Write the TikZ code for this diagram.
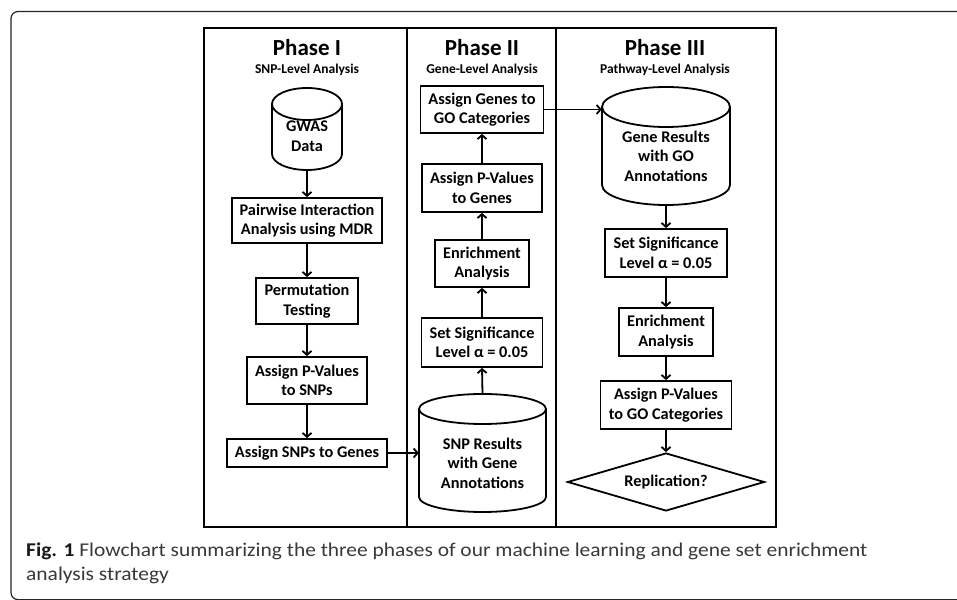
\documentclass[tikz,border=0pt]{standalone}
\usepackage{fontspec}
\setmainfont{Carlito}
\newfontfamily\capfont[FakeStretch=1.1]{Carlito}
\usetikzlibrary{arrows.meta,shapes.geometric,calc}
\newcommand\dbcyl[6]{% name, cx, Ytop, Ybot, rx, ry
  \node[inner sep=0pt, minimum width={2*#5}, minimum height={#3-#4}] (#1) at ({#2},{(#3+#4)/2}) {};
  \draw[lw] ({#2},{#3-#6}) ellipse[x radius=#5, y radius=#6];
  \draw[lw] ({#2-#5},{#3-#6}) -- ({#2-#5},{#4+#6}) arc[start angle=180, end angle=360, x radius=#5, y radius=#6] -- ({#2+#5},{#3-#6});
}
\begin{document}
\begin{tikzpicture}[x=1pt,y=1pt,
  lw/.style={draw=black, line width=1.8pt},
  bx/.style={lw, inner sep=0pt, align=center, font=\fontsize{16.3}{19.5}\selectfont\bfseries},
  txt/.style={inner sep=0pt, align=center, font=\fontsize{16.3}{19.5}\selectfont\bfseries},
  head/.style={inner sep=0pt, font=\fontsize{23}{26}\selectfont\bfseries},
  sub/.style={inner sep=0pt, font=\fontsize{13.5}{15}\selectfont\bfseries},
  arr/.style={line width=1.8pt, -{Straight Barb[length=4pt,width=9pt]}},
  captxt/.style={inner sep=0pt, align=left, anchor=base west, text=black!78, font=\capfont\fontsize{19.5}{24}\selectfont}]
\useasboundingbox (0,0) rectangle (957,599);
\clip (0,0) rectangle (957,599);
% outer frame
\draw[line width=1.2pt, draw=black!85, rounded corners=7pt] (962,587.5) -- (11,587.5) -- (11,-0.6) -- (962,-0.6);
% inner frame and dividers
\draw[lw] (204,571) rectangle (776,72);
\draw[lw] (407,571) -- (407,72);
\draw[lw] (556,571) -- (556,72);
% headings
\node[head] (h1) at (307,551) {Phase I};
\node[sub]  (s1) at (307,529) {SNP-Level Analysis};
\node[head] (h2) at (482,551) {Phase II};
\node[sub]  (s2) at (482,529) {Gene-Level Analysis};
\node[head] (h3) at (665,551) {Phase III};
\node[sub]  (s3) at (665,529) {Pathway-Level Analysis};
% Phase I
\dbcyl{gwas}{307}{511}{429}{35}{16}
\node[txt] (gwasT) at (307,463) {GWAS\\Data};
\node[bx, minimum width=150, minimum height=45] (pw) at (307,378.5) {Pairwise Interaction\\Analysis using MDR};
\node[bx, minimum width=102, minimum height=46] (perm) at (307,298) {Permutation\\Testing};
\node[bx, minimum width=120, minimum height=47] (ap1) at (307,218.5) {Assign P-Values\\to SNPs};
\node[bx, minimum width=160, minimum height=28] (asg) at (307,146) {Assign SNPs to Genes};
% Phase II
\node[bx, minimum width=123, minimum height=47] (goc) at (482,489.5) {Assign Genes to\\GO Categories};
\node[bx, minimum width=120, minimum height=48] (apg) at (482,411) {Assign P-Values\\to Genes};
\node[bx, minimum width=94, minimum height=47] (enr2) at (482,335.5) {Enrichment\\Analysis};
\node[bx, minimum width=121, minimum height=49] (sig2) at (482,256.5) {Set Significance\\Level α = 0.05};
\dbcyl{snpres}{482.5}{205}{87}{63.5}{15}
\node[txt] (snpresT) at (482.5,136) {SNP Results\\with Gene\\Annotations};
% Phase III
\dbcyl{gene}{666}{512}{394}{64}{20}
\node[txt] (geneT) at (666,443) {Gene Results\\with GO\\Annotations};
\node[bx, minimum width=122, minimum height=48] (sig3) at (666,346) {Set Significance\\Level α = 0.05};
\node[bx, minimum width=94, minimum height=48] (enr3) at (666,267) {Enrichment\\Analysis};
\node[bx, minimum width=131, minimum height=48] (apgo) at (666,194) {Assign P-Values\\to GO Categories};
\node[bx, diamond, aspect=3.4, minimum width=197, minimum height=58] (repl) at (666,117) {Replication?};
% connectors
\draw[arr] (gwas.south) -- (pw.north);
\draw[arr] (pw.south) -- (perm.north);
\draw[arr] (perm.south) -- (ap1.north);
\draw[arr] (ap1.south) -- (asg.north);
\draw[arr] (asg.east) -- (asg.east -| snpres.west);
\draw[arr] (snpres.north) -- (sig2.south);
\draw[arr] (sig2.north) -- (enr2.south);
\draw[arr] (enr2.north) -- (apg.south);
\draw[arr] (apg.north) -- (goc.south);
\draw[arr] (goc.east) -- (goc.east -| gene.west);
\draw[arr] (gene.south) -- (sig3.north);
\draw[arr] (sig3.south) -- (enr3.north);
\draw[arr] (enr3.south) -- (apgo.north);
\draw[arr] (apgo.south) -- (repl.north);
% caption
\node[captxt] (caption) at (26,19) {{\bfseries\color{black!90}Fig. 1} Flowchart summarizing the three phases of our machine learning and gene set enrichment\\analysis strategy};
\end{tikzpicture}
\end{document}
